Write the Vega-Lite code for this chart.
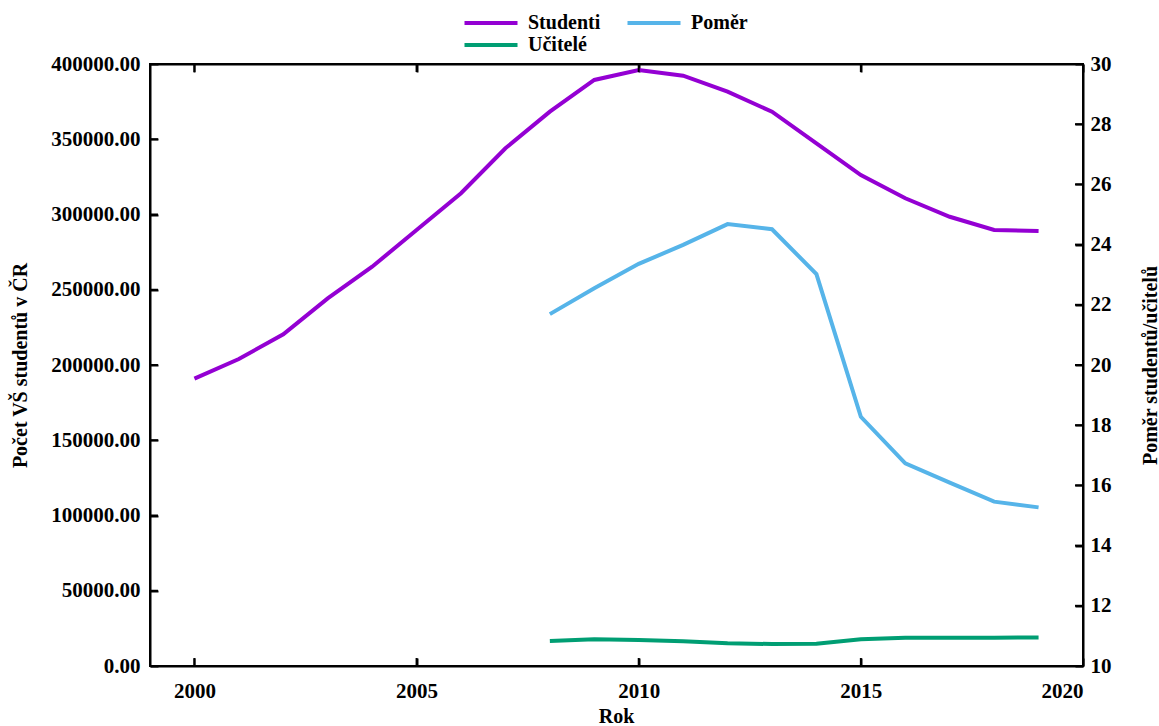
{
  "$schema": "https://vega.github.io/schema/vega-lite/v6.json",
  "width": 933,
  "height": 602,
  "autosize": "none",
  "padding": {"left": 150, "top": 64, "right": 76, "bottom": 60},
  "background": "white",
  "config": {
    "font": "Liberation Serif",
    "view": {"stroke": "black", "strokeWidth": 2},
    "axis": {
      "grid": false,
      "domain": true,
      "domainColor": "black",
      "domainWidth": 2,
      "ticks": true,
      "tickColor": "black",
      "tickWidth": 2,
      "tickSize": -8,
      "labelFont": "Liberation Serif",
      "labelFontSize": 21,
      "labelFontWeight": "bold",
      "labelColor": "black",
      "titleFont": "Liberation Serif",
      "titleFontSize": 20,
      "titleFontWeight": "bold",
      "titleColor": "black"
    }
  },
  "data": {
    "values": [
      {"Rok": 2000, "Rada": "Studenti", "Hodnota": 191000},
      {"Rok": 2001, "Rada": "Studenti", "Hodnota": 204000},
      {"Rok": 2002, "Rada": "Studenti", "Hodnota": 220400},
      {"Rok": 2003, "Rada": "Studenti", "Hodnota": 244300},
      {"Rok": 2004, "Rada": "Studenti", "Hodnota": 265300},
      {"Rok": 2005, "Rada": "Studenti", "Hodnota": 289700},
      {"Rok": 2006, "Rada": "Studenti", "Hodnota": 314100},
      {"Rok": 2007, "Rada": "Studenti", "Hodnota": 344000},
      {"Rok": 2008, "Rada": "Studenti", "Hodnota": 368300},
      {"Rok": 2009, "Rada": "Studenti", "Hodnota": 389400},
      {"Rok": 2010, "Rada": "Studenti", "Hodnota": 396000},
      {"Rok": 2011, "Rada": "Studenti", "Hodnota": 392200},
      {"Rok": 2012, "Rada": "Studenti", "Hodnota": 381600},
      {"Rok": 2013, "Rada": "Studenti", "Hodnota": 368300},
      {"Rok": 2014, "Rada": "Studenti", "Hodnota": 347300},
      {"Rok": 2015, "Rada": "Studenti", "Hodnota": 326200},
      {"Rok": 2016, "Rada": "Studenti", "Hodnota": 310800},
      {"Rok": 2017, "Rada": "Studenti", "Hodnota": 298500},
      {"Rok": 2018, "Rada": "Studenti", "Hodnota": 289700},
      {"Rok": 2019, "Rada": "Studenti", "Hodnota": 289000},
      {"Rok": 2008, "Rada": "Učitelé", "Hodnota": 16600},
      {"Rok": 2009, "Rada": "Učitelé", "Hodnota": 17700},
      {"Rok": 2010, "Rada": "Učitelé", "Hodnota": 17300},
      {"Rok": 2011, "Rada": "Učitelé", "Hodnota": 16400},
      {"Rok": 2012, "Rada": "Učitelé", "Hodnota": 15100},
      {"Rok": 2013, "Rada": "Učitelé", "Hodnota": 14600},
      {"Rok": 2014, "Rada": "Učitelé", "Hodnota": 14800},
      {"Rok": 2015, "Rada": "Učitelé", "Hodnota": 17700},
      {"Rok": 2016, "Rada": "Učitelé", "Hodnota": 18800},
      {"Rok": 2017, "Rada": "Učitelé", "Hodnota": 18700},
      {"Rok": 2018, "Rada": "Učitelé", "Hodnota": 18800},
      {"Rok": 2019, "Rada": "Učitelé", "Hodnota": 19000},
      {"Rok": 2008, "Rada": "Poměr", "Hodnota": 21.69},
      {"Rok": 2009, "Rada": "Poměr", "Hodnota": 22.55},
      {"Rok": 2010, "Rada": "Poměr", "Hodnota": 23.36},
      {"Rok": 2011, "Rada": "Poměr", "Hodnota": 23.99},
      {"Rok": 2012, "Rada": "Poměr", "Hodnota": 24.68},
      {"Rok": 2013, "Rada": "Poměr", "Hodnota": 24.51},
      {"Rok": 2014, "Rada": "Poměr", "Hodnota": 23.02},
      {"Rok": 2015, "Rada": "Poměr", "Hodnota": 18.28},
      {"Rok": 2016, "Rada": "Poměr", "Hodnota": 16.73},
      {"Rok": 2017, "Rada": "Poměr", "Hodnota": 16.09},
      {"Rok": 2018, "Rada": "Poměr", "Hodnota": 15.46},
      {"Rok": 2019, "Rada": "Poměr", "Hodnota": 15.27}
    ]
  },
  "layer": [
    {
      "layer": [
        {
          "transform": [{"filter": "datum.Rada !== 'Poměr'"}],
          "mark": {"type": "line", "strokeWidth": 4},
          "encoding": {
            "x": {
              "field": "Rok", "type": "quantitative",
              "scale": {"domain": [1999, 2020], "nice": false, "zero": false},
              "axis": {
                "orient": "bottom",
                "values": [2000, 2005, 2010, 2015, 2020],
                "format": "d",
                "labelPadding": 22,
                "title": "Rok",
                "titleX": 466,
                "titleY": 50,
                "titleBaseline": "middle",
                "titleAlign": "center"
              }
            },
            "y": {
              "field": "Hodnota", "type": "quantitative",
              "scale": {"domain": [0, 400000], "nice": false},
              "axis": {
                "orient": "left",
                "values": [0, 50000, 100000, 150000, 200000, 250000, 300000, 350000, 400000],
                "format": ".2f",
                "labelPadding": 18,
                "title": "Počet VŠ studentů v ČR",
                "titleAngle": 270,
                "titleX": -130,
                "titleY": 301,
                "titleBaseline": "middle",
                "titleAlign": "center"
              }
            },
            "color": {
              "field": "Rada", "type": "nominal",
              "scale": {"domain": ["Studenti", "Učitelé", "Poměr"], "range": ["#9400D3", "#009E73", "#56B4E9"]},
              "legend": {
                "title": null,
                "orient": "none",
                "legendX": 329,
                "legendY": -53,
                "columns": 2,
                "symbolType": "M-2.65,0H2.65",
                "symbolSize": 400,
                "symbolStrokeWidth": 4,
                "labelFont": "Liberation Serif",
                "labelFontSize": 20,
                "labelFontWeight": "bold",
                "labelColor": "black",
                "labelOffset": 25,
                "rowPadding": -2,
                "columnPadding": 18
              }
            }
          }
        },
        {
          "data": {"values": [
            {"Hodnota": 50000}, {"Hodnota": 100000}, {"Hodnota": 150000}, {"Hodnota": 200000},
            {"Hodnota": 250000}, {"Hodnota": 300000}, {"Hodnota": 350000}
          ]},
          "mark": {"type": "tick", "orient": "horizontal", "size": 8, "thickness": 2, "color": "black", "opacity": 1, "xOffset": 4},
          "encoding": {
            "x": {"datum": 1999, "type": "quantitative"},
            "y": {"field": "Hodnota", "type": "quantitative"}
          }
        },
        {
          "data": {"values": [
            {"Rok": 2000}, {"Rok": 2005}, {"Rok": 2010}, {"Rok": 2015}
          ]},
          "mark": {"type": "tick", "orient": "vertical", "size": 8, "thickness": 2, "color": "black", "opacity": 1, "yOffset": -4},
          "encoding": {
            "x": {"field": "Rok", "type": "quantitative"},
            "y": {"datum": 0, "type": "quantitative"}
          }
        },
        {
          "data": {"values": [
            {"Rok": 2000}, {"Rok": 2005}, {"Rok": 2010}, {"Rok": 2015}
          ]},
          "mark": {"type": "tick", "orient": "vertical", "size": 8, "thickness": 2, "color": "black", "opacity": 1, "yOffset": 4},
          "encoding": {
            "x": {"field": "Rok", "type": "quantitative"},
            "y": {"datum": 400000, "type": "quantitative"}
          }
        }
      ]
    },
    {
      "layer": [
        {
          "transform": [{"filter": "datum.Rada === 'Poměr'"}],
          "mark": {"type": "line", "strokeWidth": 4},
          "encoding": {
            "x": {
              "field": "Rok", "type": "quantitative",
              "scale": {"domain": [1999, 2020], "nice": false, "zero": false},
              "axis": {
                "orient": "top",
                "values": [2000, 2005, 2010, 2015, 2020],
                "labels": false,
                "title": null
              }
            },
            "y": {
              "field": "Hodnota", "type": "quantitative",
              "scale": {"domain": [10, 30], "nice": false, "zero": false},
              "axis": {
                "orient": "right",
                "values": [10, 12, 14, 16, 18, 20, 22, 24, 26, 28, 30],
                "labelPadding": 15,
                "title": "Poměr studentů/učitelů",
                "titleAngle": 270,
                "titleX": 67,
                "titleY": 301,
                "titleBaseline": "middle",
                "titleAlign": "center"
              }
            },
            "color": {
              "field": "Rada", "type": "nominal",
              "scale": {"domain": ["Studenti", "Učitelé", "Poměr"], "range": ["#9400D3", "#009E73", "#56B4E9"]}
            }
          }
        },
        {
          "data": {"values": [
            {"Hodnota": 12}, {"Hodnota": 14}, {"Hodnota": 16}, {"Hodnota": 18},
            {"Hodnota": 20}, {"Hodnota": 22}, {"Hodnota": 24}, {"Hodnota": 26}, {"Hodnota": 28}
          ]},
          "mark": {"type": "tick", "orient": "horizontal", "size": 8, "thickness": 2, "color": "black", "opacity": 1, "xOffset": -4},
          "encoding": {
            "x": {"datum": 2020, "type": "quantitative"},
            "y": {"field": "Hodnota", "type": "quantitative"}
          }
        }
      ]
    }
  ],
  "resolve": {"scale": {"y": "independent"}, "axis": {"x": "independent", "y": "independent"}}
}
